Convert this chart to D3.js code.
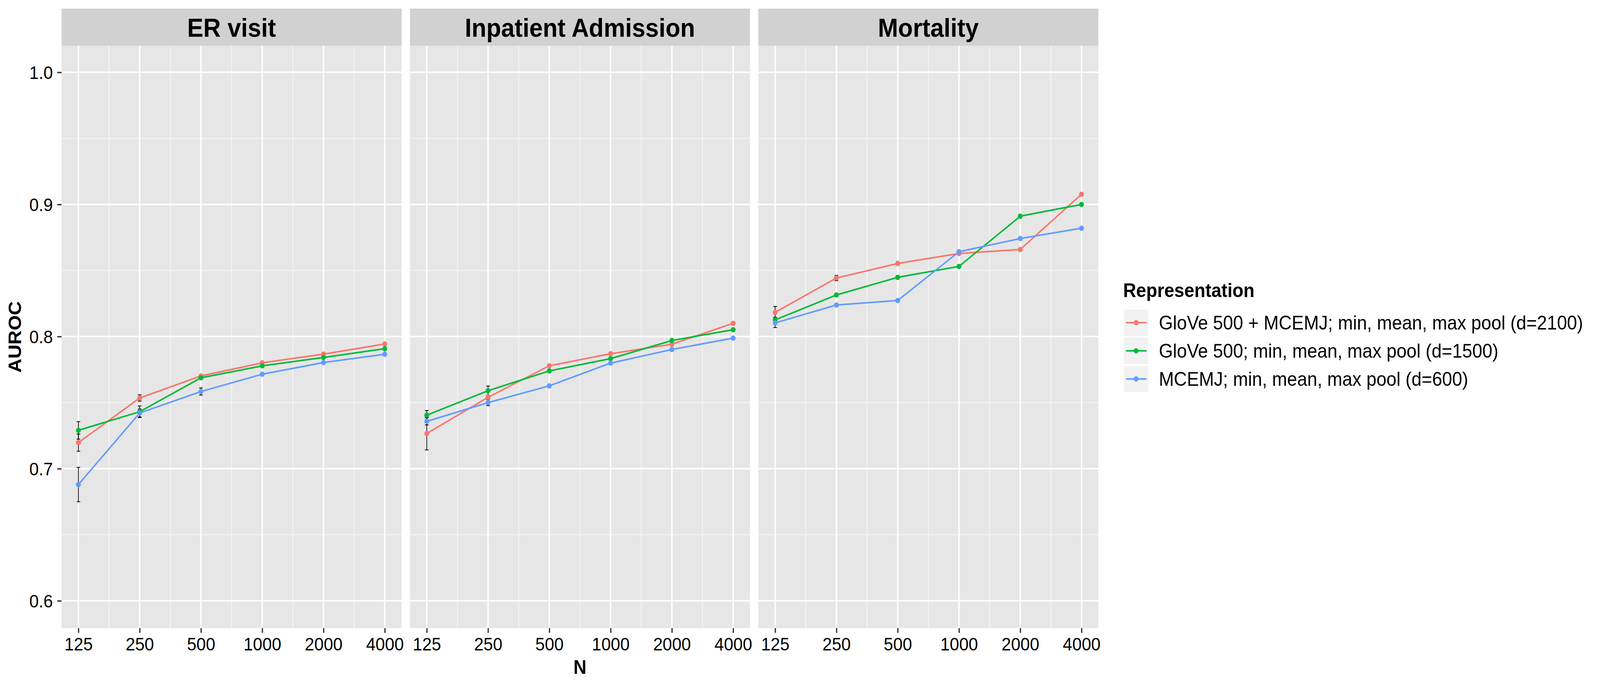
<!DOCTYPE html>
<html>
<head>
<meta charset="utf-8">
<script src="https://cdn.jsdelivr.net/npm/d3@7/dist/d3.min.js"></script>
<style>
  html, body { margin: 0; padding: 0; background: #ffffff; overflow: hidden; width: 100%; height: 100%; }
  svg { display: block; width: 100vw; height: 100vh; }
  text { font-family: "Liberation Sans", Arial, Helvetica, sans-serif; }
</style>
</head>
<body>
<svg id="chart" viewBox="0 0 4432 1755" preserveAspectRatio="none"></svg>
<script>
// ---------------- data ----------------
const panels = ["ER visit", "Inpatient Admission", "Mortality"];
const nValues = [125, 250, 500, 1000, 2000, 4000];
const nTickLabels = ["125", "250", "500", "1000", "2000", "4000"];
const yTicks = [0.6, 0.7, 0.8, 0.9, 1.0];
const yMinor = [0.65, 0.75, 0.85, 0.95];
const seriesNames = [
  "GloVe 500 + MCEMJ; min, mean, max pool (d=2100)",
  "GloVe 500; min, mean, max pool (d=1500)",
  "MCEMJ; min, mean, max pool (d=600)"
];

// ER visit
const erCombined     = [0.7197, 0.7535, 0.7702, 0.7801, 0.7867, 0.7944];
const erCombinedErr  = [0.0065, 0.0024, 0.0010, 0.0010, 0.0010, 0.0010];
const erGlove        = [0.7290, 0.7431, 0.7688, 0.7778, 0.7842, 0.7908];
const erGloveErr     = [0.0066, 0.0044, 0.0010, 0.0010, 0.0010, 0.0010];
const erMcemj        = [0.6880, 0.7421, 0.7584, 0.7715, 0.7803, 0.7866];
const erMcemjErr     = [0.0130, 0.0030, 0.0027, 0.0010, 0.0010, 0.0010];
// Inpatient Admission
const ipCombined     = [0.7266, 0.7540, 0.7779, 0.7870, 0.7942, 0.8100];
const ipCombinedErr  = [0.0124, 0.0010, 0.0010, 0.0010, 0.0010, 0.0010];
const ipGlove        = [0.7405, 0.7590, 0.7740, 0.7833, 0.7970, 0.8052];
const ipGloveErr     = [0.0035, 0.0035, 0.0010, 0.0010, 0.0010, 0.0010];
const ipMcemj        = [0.7358, 0.7500, 0.7627, 0.7799, 0.7902, 0.7988];
const ipMcemjErr     = [0.0027, 0.0023, 0.0010, 0.0010, 0.0010, 0.0010];
// Mortality
const moCombined     = [0.8183, 0.8443, 0.8553, 0.8629, 0.8659, 0.9077];
const moCombinedErr  = [0.0045, 0.0020, 0.0010, 0.0010, 0.0010, 0.0010];
const moGlove        = [0.8126, 0.8315, 0.8448, 0.8531, 0.8911, 0.9000];
const moGloveErr     = [0.0020, 0.0010, 0.0010, 0.0010, 0.0010, 0.0010];
const moMcemj        = [0.8103, 0.8239, 0.8273, 0.8642, 0.8742, 0.8820];
const moMcemjErr     = [0.0035, 0.0010, 0.0010, 0.0010, 0.0010, 0.0010];

const panelData = [
  [[erCombined, erCombinedErr], [erGlove, erGloveErr], [erMcemj, erMcemjErr]],
  [[ipCombined, ipCombinedErr], [ipGlove, ipGloveErr], [ipMcemj, ipMcemjErr]],
  [[moCombined, moCombinedErr], [moGlove, moGloveErr], [moMcemj, moMcemjErr]]
];

// ---------------- style / layout ----------------
const colors = ["#F8766D", "#00BA38", "#619CFF"];
const panelLeft = [170.5, 1135.5, 2100.5];
const panelW = 942;
const panelTop = 117, panelBottom = 1607;
const stripTop = 22;
const xPad = 0.275; // expansion in log2 units

const svg = d3.select("#chart");
svg.append("rect").attr("width", 4432).attr("height", 1755).attr("fill", "#ffffff");

const y = d3.scaleLinear().domain([0.57929, 1.02012]).range([panelBottom, panelTop]);

panels.forEach((pname, pi) => {
  const x0 = panelLeft[pi];
  const x = d3.scaleLog().base(2)
    .domain([nValues[0] / Math.pow(2, xPad), nValues[nValues.length - 1] * Math.pow(2, xPad)])
    .range([x0, x0 + panelW]);

  const g = svg.append("g");
  // panel background
  g.append("rect").attr("x", x0).attr("y", panelTop).attr("width", panelW)
    .attr("height", panelBottom - panelTop).attr("fill", "#E6E6E6");
  // strip
  g.append("rect").attr("x", x0).attr("y", stripTop).attr("width", panelW)
    .attr("height", panelTop - stripTop).attr("fill", "#D1D1D1");
  g.append("text").attr("x", x0 + panelW / 2).attr("y", 94.5)
    .attr("text-anchor", "middle").attr("font-size", 67).attr("font-weight", "bold")
    .attr("fill", "#000").text(pname);

  // minor grid
  const xMinor = d3.pairs(nValues).map(([a, b]) => Math.sqrt(a * b));
  g.selectAll(null).data(yMinor).enter().append("line")
    .attr("x1", x0).attr("x2", x0 + panelW)
    .attr("y1", d => y(d)).attr("y2", d => y(d))
    .attr("stroke", "#F7F7F7").attr("stroke-width", 2);
  g.selectAll(null).data(xMinor).enter().append("line")
    .attr("y1", panelTop).attr("y2", panelBottom)
    .attr("x1", d => x(d)).attr("x2", d => x(d))
    .attr("stroke", "#F7F7F7").attr("stroke-width", 2);
  // major grid
  g.selectAll(null).data(yTicks).enter().append("line")
    .attr("x1", x0).attr("x2", x0 + panelW)
    .attr("y1", d => y(d)).attr("y2", d => y(d))
    .attr("stroke", "#ffffff").attr("stroke-width", 4);
  g.selectAll(null).data(nValues).enter().append("line")
    .attr("y1", panelTop).attr("y2", panelBottom)
    .attr("x1", d => x(d)).attr("x2", d => x(d))
    .attr("stroke", "#ffffff").attr("stroke-width", 4);

  // x axis
  const xAxis = d3.axisBottom(x).tickValues(nValues).tickFormat((d, i) => nTickLabels[i])
    .tickSize(12).tickPadding(12);
  const xa = g.append("g").attr("transform", `translate(0,${panelBottom})`).call(xAxis);
  xa.select(".domain").remove();
  xa.selectAll(".tick line").attr("stroke", "#333333").attr("stroke-width", 3.5);
  xa.selectAll(".tick text").attr("font-size", 47).attr("fill", "#000")
    .attr("font-family", '"Liberation Sans", Arial, sans-serif').attr("dy", "0.71em");

  // y axis on first panel
  if (pi === 0) {
    const yAxis = d3.axisLeft(y).tickValues(yTicks).tickFormat(d3.format(".1f"))
      .tickSize(12).tickPadding(12);
    const ya = g.append("g").attr("transform", `translate(${x0},0)`).call(yAxis);
    ya.select(".domain").remove();
    ya.selectAll(".tick line").attr("stroke", "#333333").attr("stroke-width", 3.5);
    ya.selectAll(".tick text").attr("font-size", 47).attr("fill", "#000")
      .attr("font-family", '"Liberation Sans", Arial, sans-serif').attr("dy", "0.36em");
  }

  // data
  const series = panelData[pi].map((s, si) => nValues.map((n, i) => ({
    n, v: s[0][i], e: s[1][i], si
  })));

  // error bars
  series.forEach(pts => {
    const eb = g.append("g");
    pts.forEach(p => {
      const xc = x(p.n), yl = y(p.v - p.e), yh = y(p.v + p.e);
      eb.append("line").attr("x1", xc).attr("x2", xc).attr("y1", yl).attr("y2", yh)
        .attr("stroke", "#000").attr("stroke-width", 2);
      [yl, yh].forEach(yy => eb.append("line").attr("x1", xc - 5).attr("x2", xc + 5)
        .attr("y1", yy).attr("y2", yy).attr("stroke", "#000").attr("stroke-width", 2));
    });
  });
  const line = d3.line().x(d => x(d.n)).y(d => y(d.v));
  series.forEach((pts, si) => {
    g.append("path").datum(pts).attr("d", line).attr("fill", "none")
      .attr("stroke", colors[si]).attr("stroke-width", 4).attr("stroke-linejoin", "round");
  });
  series.forEach((pts, si) => {
    g.selectAll(null).data(pts).enter().append("circle")
      .attr("cx", d => x(d.n)).attr("cy", d => y(d.v)).attr("r", 6.8)
      .attr("fill", colors[si]);
  });
});

// axis titles
svg.append("text").attr("transform", `translate(58,${(panelTop + panelBottom) / 2}) rotate(-90)`)
  .attr("text-anchor", "middle").attr("font-size", 50).attr("font-weight", "bold")
  .attr("fill", "#000").text("AUROC");
svg.append("text").attr("x", panelLeft[1] + panelW / 2).attr("y", 1724)
  .attr("text-anchor", "middle").attr("font-size", 50).attr("font-weight", "bold")
  .attr("fill", "#000").text("N");

// legend
const lg = svg.append("g");
lg.append("text").attr("x", 3111).attr("y", 760).attr("font-size", 50)
  .attr("font-weight", "bold").attr("fill", "#000").text("Representation");
seriesNames.forEach((name, i) => {
  const top = 792 + i * 72;
  const cy = top + 33.5;
  lg.append("rect").attr("x", 3113).attr("y", top).attr("width", 68).attr("height", 67)
    .attr("fill", "#F2F2F2");
  lg.append("line").attr("x1", 3119).attr("x2", 3176).attr("y1", cy).attr("y2", cy)
    .attr("stroke", colors[i]).attr("stroke-width", 4);
  lg.append("circle").attr("cx", 3147).attr("cy", cy).attr("r", 6.8).attr("fill", colors[i]);
  lg.append("text").attr("x", 3210).attr("y", cy + 17.5).attr("font-size", 50)
    .attr("fill", "#000").text(name);
});
</script>
</body>
</html>
